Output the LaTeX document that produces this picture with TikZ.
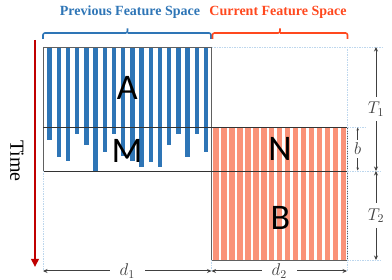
\documentclass[tikz,border=0pt]{standalone}
\usepackage{fix-cm}
\usepackage{fontspec}
\setmainfont{Liberation Serif}
\newfontfamily\blockfont{Carlito}
\usetikzlibrary{positioning,arrows.meta}

\definecolor{prevblue}{RGB}{46,117,182}
\definecolor{currred}{RGB}{255,72,30}
\definecolor{salmon}{RGB}{250,146,120}
\definecolor{timered}{RGB}{192,0,0}
\definecolor{guideblue}{RGB}{189,215,238}
\definecolor{dimgray}{RGB}{64,64,64}

\begin{document}
\begin{tikzpicture}[x=1pt, y=-1pt,
  edge/.style={gray!75!black, line width=0.8pt},
  split/.style={black!80, line width=0.8pt},
  guide/.style={guideblue, dash pattern=on 1.5pt off 1pt, line width=0.5pt},
  dim/.style={{Stealth[length=4.5pt,width=4pt]}-{Stealth[length=4.5pt,width=4pt]}, dimgray, line width=1pt},
  brace/.style={line width=1.6pt, rounded corners=2pt},
  title/.style={font=\bfseries\fontsize{14}{16}\selectfont},
  blocklbl/.style={font=\blockfont\fontsize{36}{40}\selectfont, inner sep=0pt},
  dimlbl/.style={font=\fontsize{17}{19}\selectfont, fill=white, inner sep=1pt}
]
\useasboundingbox (0,0) rectangle (392,280);

% ---------------- corners ----------------
\coordinate (tl) at (43,47);
\coordinate (tm) at (211.5,47);
\coordinate (tr) at (347,47);
\coordinate (ml) at (43,127);
\coordinate (mr) at (347,127);
\coordinate (bl) at (43,171);
\coordinate (br) at (347,171);
\coordinate (em) at (211.5,260);
\coordinate (er) at (347,260);

% ---------------- previous space: bars ----------------
\foreach \i/\bot in {1/140.5, 2/156.7, 3/161, 4/134, 5/145.5, 6/171,
                     7/152, 8/134, 9/156, 10/161, 11/167, 12/162,
                     13/167, 14/145.5, 15/134, 16/157, 17/134, 18/152}
  \fill[prevblue] ({47.3+9.2*(\i-1)},47) rectangle ({51.7+9.2*(\i-1)},\bot);

% ---------------- current space: stripes ----------------
\foreach \k in {0,...,16}
  \fill[salmon] ({213.3+7.95*\k},127) rectangle ++(5.5,133);

% ---------------- box lines ----------------
\draw[edge] (tl) -- (tm);
\draw[edge] (tl) -- (bl);
\draw[edge] (tm) -- (em) -- (er) -- (mr);
\draw[split] (ml) -- (mr);
\draw[split] (bl) -- (br);

% ---------------- guides ----------------
\draw[guide] (bl) -- (43,271);
\draw[guide] (em) -- (211.5,271);
\draw[guide] (tr) -- (347,271);
\draw[guide] (tm) -- (382,47);
\draw[guide] (mr) -- (365,127);
\draw[guide] (br) -- (382,171);
\draw[guide] (er) -- (382,260);

% ---------------- block labels ----------------
\node[blocklbl] (A) at (127.3,88.3) {A};
\node[blocklbl] (M) at (127,151) {M};
\node[blocklbl] (N) at (280,149) {N};
\node[blocklbl] (B) at (280.5,217.5) {B};

% ---------------- braces and titles ----------------
\draw[prevblue, brace] (43,39) |- (127.5,33) -- (127.5,28.5);
\draw[prevblue, brace] (211,39) |- (127.5,33);
\draw[currred, brace] (212.5,39) |- (280,33) -- (280,28.5);
\draw[currred, brace] (347.5,39) |- (280,33);
\node[title, text=prevblue] (prev) at (130,12) {Previous Feature Space};
\node[title, text=currred] (curr) at (278,12) {Current Feature Space};

% ---------------- time axis ----------------
\coordinate (t0) at (35,40);
\coordinate (t1) at (35,267);
\draw[timered, line width=2pt, -{Triangle[width=7.5pt,length=8pt]}] (t0) -- (t1);
\node[font=\fontsize{20}{22}\selectfont, rotate=-90] (time) at (17,161) {Time};

% ---------------- dimensions ----------------
\coordinate (d1a) at (43,271);
\coordinate (d1b) at (211.5,271);
\coordinate (d2b) at (347,271);
\draw[dim] (d1a) -- (d1b) node[dimlbl, midway, inner xsep=10pt, inner ysep=0pt] (d1) {$d_1$};
\draw[dim] (d1b) -- (d2b) node[dimlbl, midway, inner xsep=10pt, inner ysep=0pt] (d2) {$d_2$};

\coordinate (T1a) at (376,47);
\coordinate (T1b) at (376,171);
\coordinate (T2b) at (376,260);
\draw[dim] (T1a) -- (T1b) node[dimlbl, midway, inner ysep=5pt] (T1) {$T_1$};
\draw[dim] (T1b) -- (T2b) node[dimlbl, midway, inner ysep=5pt] (T2) {$T_2$};

\coordinate (ba) at (357.7,127.5);
\coordinate (bb) at (357.7,170.5);
\draw[dim, {Stealth[length=3pt,width=2.5pt]}-{Stealth[length=3pt,width=2.5pt]}, line width=0.7pt]
  (ba) -- (bb) node[dimlbl, midway, inner ysep=3pt] (b) {$b$};
\end{tikzpicture}
\end{document}
